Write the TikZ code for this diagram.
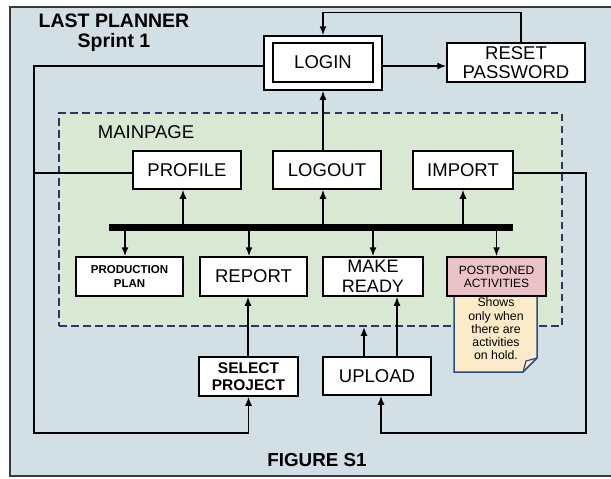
\documentclass[tikz,border=0pt]{standalone}
\usepackage{fontspec}
\setmainfont{Liberation Sans}
\usetikzlibrary{arrows.meta}
\definecolor{bgc}{HTML}{D2DFE5}
\definecolor{mainc}{HTML}{D8E8D3}
\definecolor{dashc}{HTML}{2B3560}
\definecolor{pinkc}{HTML}{EBC3C7}
\definecolor{notec}{HTML}{FCEBC8}
\definecolor{notedraw}{HTML}{2E4C80}
\definecolor{framec}{HTML}{3A3A3A}
\newcommand{\myfs}[2]{\fontsize{#1}{#2}\selectfont}
\begin{document}
\begin{tikzpicture}[x=1pt,y=-1pt,
  box/.style={draw=black, line width=1.5pt, fill=white, inner sep=0pt, align=center,
              font=\myfs{18.5pt}{19pt}},
  arr/.style={line width=1.5pt, -{Latex[length=9pt,width=7pt]}},
  conn/.style={line width=1.5pt},
  lbl/.style={inner sep=0pt, align=center}]
\useasboundingbox (0,0) rectangle (611,479);
% background frame
\draw[fill=bgc, draw=framec, line width=2pt] (10,7) rectangle (613,476);
% mainpage area
\node[draw=dashc, dashed, dash pattern=on 7.5pt off 4.5pt, line width=1.8pt, fill=mainc,
      minimum width=503pt, minimum height=213pt, inner sep=0pt] (main) at (310.5,219.5) {};
% note
\draw[fill=notec, draw=notedraw, line width=1.5pt]
  (454,290) -- (537,290) -- (537,358) -- (523,372) -- (454,372) -- cycle;
\draw[draw=notedraw, line width=1.2pt] (523,372) -- (526,361) -- (537,358);
\node[lbl, font=\myfs{12.3pt}{13.2pt}] (note) at (496,329) {Shows\\only when\\there are\\activities\\on hold.};
% title texts
\node[lbl, font=\bfseries\myfs{19.5pt}{20pt}] (title) at (114,33) {LAST PLANNER\\Sprint 1};
\node[lbl, font=\myfs{18.5pt}{19pt}] (mainlbl) at (146,132) {MAINPAGE};
\node[lbl, font=\bfseries\myfs{18.8pt}{19pt}] (fig) at (317,460) {FIGURE S1};
% boxes
\node[box, minimum width=118pt, minimum height=54pt] (loginout) at (323,63) {};
\node[box, minimum width=100pt, minimum height=39pt] (login) at (323,62.5) {LOGIN};
\node[box, minimum width=138pt, minimum height=39pt] (reset) at (516,62.5) {RESET\\PASSWORD};
\node[box, minimum width=108pt, minimum height=38pt] (profile) at (187,170) {PROFILE};
\node[box, minimum width=108pt, minimum height=38pt] (logout) at (327,170) {LOGOUT};
\node[box, minimum width=100pt, minimum height=38pt] (import) at (463,170) {IMPORT};
\node[box, minimum width=107pt, minimum height=39pt, font=\bfseries\myfs{11.5pt}{14pt}] (prod) at (129.5,276.5) {PRODUCTION\\PLAN};
\node[box, minimum width=107pt, minimum height=39pt] (report) at (253.5,276.5) {REPORT};
\node[box, minimum width=100pt, minimum height=39pt, font=\myfs{18pt}{20pt}] (make) at (373,276.5) {MAKE\\READY};
\node[box, minimum width=99pt, minimum height=39pt, fill=pinkc, font=\myfs{12pt}{13pt}] (post) at (496.5,276.5) {POSTPONED\\ACTIVITIES};
\node[box, minimum width=99pt, minimum height=39pt, font=\bfseries\myfs{15.5pt}{17pt}] (select) at (248.5,376.5) {SELECT\\PROJECT};
\node[box, minimum width=108pt, minimum height=38pt] (upload) at (377,376) {UPLOAD};
% bus bar
\coordinate (busL) at (109,227);
\coordinate (busR) at (513,227);
\draw[line width=7pt] (busL) -- (busR);
% bus arrows up
\draw[arr] ([xshift=-4pt]profile.south |- busL) -- ([xshift=-4pt]profile.south);
\draw[arr] (login.south |- busL) -- (login.south |- logout.south);
\draw[arr] (import.south |- busL) -- (import.south);
% bus arrows down
\draw[arr] ([xshift=-4.5pt]prod.north |- busL) -- ([xshift=-4.5pt]prod.north);
\draw[arr] ([xshift=-4.5pt]report.north |- busL) -- ([xshift=-4.5pt]report.north);
\draw[arr] (make.north |- busL) -- (make.north);
\draw[arr] (post.north |- busL) -- (post.north);
% logout -> login
\draw[arr] (login.south |- logout.north) -- (loginout.south);
% login -> reset
\draw[arr] ([yshift=-3pt]loginout.east) -- ([yshift=-3pt]loginout.east -| reset.west);
% reset -> login
\draw[arr] ([xshift=5pt]reset.north) -- ++(0,-30) -| (loginout.north);
% left loop
\coordinate (bl) at (34,433);
\draw[arr] ([yshift=-3pt]loginout.west) -| (bl) -| (select.south);
\draw[conn] ([yshift=-3pt]profile.west) -- ([yshift=-3pt]profile.west -| bl);
% right loop
\coordinate (br) at (586,433);
\draw[arr] ([yshift=-3pt]import.east) -| (br) -| ([xshift=4pt]upload.south);
% select -> report
\draw[arr] ([xshift=-0.5pt]select.north) -- ([xshift=-0.5pt]select.north |- report.south);
% upload -> make ready
\draw[arr] ([xshift=20pt]upload.north) -- ([xshift=20pt]upload.north |- make.south);
% upload -> mainpage
\draw[arr] ([xshift=-13pt]upload.north) -- ([xshift=-13pt]upload.north |- main.south);
\end{tikzpicture}
\end{document}
